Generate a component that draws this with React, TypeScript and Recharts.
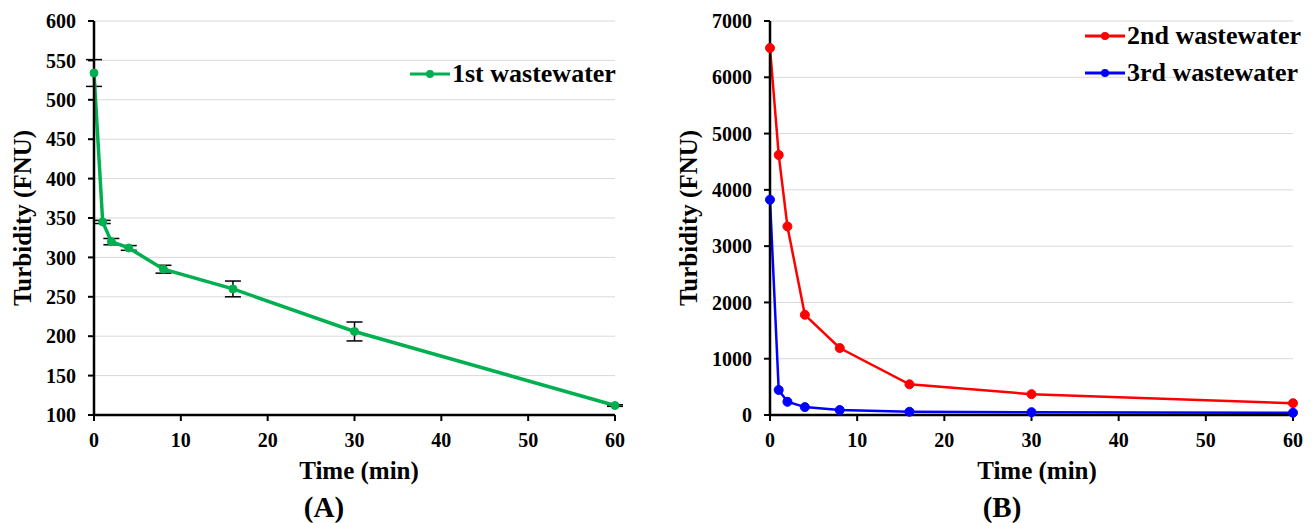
import React from 'react';
import { LineChart, Line, XAxis, YAxis, CartesianGrid, ErrorBar, Legend, Label } from 'recharts';

const timeMin = [0, 1, 2, 4, 8, 16, 30, 60];
const turbidity1st = [534, 345, 320, 312, 285, 260, 206, 112];
const error1st = [17, 2, 4, 3, 5, 10, 12, 1];
const turbidity2nd = [6520, 4620, 3350, 1780, 1190, 545, 370, 210];
const turbidity3rd = [3825, 445, 235, 140, 88, 58, 50, 40];
const xTicks = [0, 10, 20, 30, 40, 50, 60];
const yTicksA = [100, 150, 200, 250, 300, 350, 400, 450, 500, 550, 600];
const yTicksB = [0, 1000, 2000, 3000, 4000, 5000, 6000, 7000];

const dataA = timeMin.map((t, i) => ({ t, y: turbidity1st[i], err: error1st[i] }));
const dataB = timeMin.map((t, i) => ({ t, r: turbidity2nd[i], b: turbidity3rd[i] }));

const FONT = 'Liberation Serif, Times New Roman, Times, DejaVu Serif, serif';
const GREEN = '#00b050';
const RED = '#ff0000';
const BLUE = '#0000ff';

const tickStyle = { fill: '#000', fontSize: 20, fontWeight: 700, fontFamily: FONT };

const LegendRows = ({ items }: { items: { label: string; color: string }[] }) => (
  <div style={{ display: 'flex', flexDirection: 'column', gap: 7 }}>
    {items.map((it) => (
      <div key={it.label} style={{ display: 'flex', alignItems: 'center', height: 30 }}>
        <svg width={40} height={12} style={{ marginRight: 2 }}>
          <line x1={0} y1={6} x2={40} y2={6} stroke={it.color} strokeWidth={3} />
          <circle cx={20} cy={6} r={4} fill={it.color} />
        </svg>
        <span style={{ fontFamily: FONT, fontWeight: 700, fontSize: 26, color: '#000', lineHeight: '30px' }}>{it.label}</span>
      </div>
    ))}
  </div>
);

const yTitle = (cx: number) => (props: any) => {
  const vb = props.viewBox || {};
  const cy = (vb.y ?? 21) + (vb.height ?? 394) / 2;
  return (
    <text x={cx} y={cy} transform={`rotate(-90, ${cx}, ${cy})`} textAnchor="middle" dominantBaseline="central"
      fontFamily={FONT} fontWeight={700} fontSize={25} fill="#000">
      Turbidity (FNU)
    </text>
  );
};

const xTitle = (cx: number, panel: string, pcx: number) => () => (
  <g>
    <text x={cx} y={479} textAnchor="middle" fontFamily={FONT} fontWeight={700} fontSize={25} fill="#000">
      Time (min)
    </text>
    <text x={pcx} y={517} textAnchor="middle" fontFamily={FONT} fontWeight={700} fontSize={29} fill="#000">
      {panel}
    </text>
  </g>
);

export default function App() {
  return (
    <div style={{ position: 'absolute', left: 0, top: 0, width: 1315, height: 523, background: '#fff' }}>
      <div style={{ position: 'absolute', left: 0, top: 0 }}>
        <LineChart width={640} height={523} data={dataA} margin={{ top: 21, right: 25, bottom: 0, left: 0 }}>
          <CartesianGrid horizontal vertical={false} stroke="#d9d9d9" strokeWidth={1} />
          <XAxis dataKey="t" type="number" domain={[0, 60]} ticks={xTicks} height={108}
            axisLine={{ stroke: '#000', strokeWidth: 2.5 }} tickLine={{ stroke: '#000', strokeWidth: 2 }}
            tickSize={6} tickMargin={12} tick={tickStyle} interval={0}>
            <Label content={xTitle(359, '(A)', 324)} />
          </XAxis>
          <YAxis type="number" domain={[100, 600]} ticks={yTicksA} width={94} allowDataOverflow
            axisLine={{ stroke: '#000', strokeWidth: 2.5 }} tickLine={{ stroke: '#000', strokeWidth: 2 }}
            tickSize={6} tickMargin={12} tick={tickStyle} interval={0}>
            <Label content={yTitle(22)} />
          </YAxis>
          <Legend layout="horizontal" verticalAlign="middle" align="center"
            wrapperStyle={{ top: 59, left: 410, width: 'auto', height: 'auto' }}
            content={() => <LegendRows items={[{ label: '1st wastewater', color: GREEN }]} />} />
          <Line type="linear" dataKey="y" stroke={GREEN} strokeWidth={3.5} isAnimationActive={false}
            dot={{ r: 4, fill: GREEN, stroke: GREEN, strokeWidth: 1 }} activeDot={false}>
            <ErrorBar dataKey="err" direction="y" width={8} stroke="#000" strokeWidth={1.5} />
          </Line>
        </LineChart>
      </div>
      <div style={{ position: 'absolute', left: 660, top: 0 }}>
        <LineChart width={655} height={523} data={dataB} margin={{ top: 21, right: 22, bottom: 0, left: 0 }}>
          <CartesianGrid horizontal vertical={false} stroke="#d9d9d9" strokeWidth={1} />
          <XAxis dataKey="t" type="number" domain={[0, 60]} ticks={xTicks} height={108}
            axisLine={{ stroke: '#000', strokeWidth: 2.5 }} tickLine={{ stroke: '#000', strokeWidth: 2 }}
            tickSize={6} tickMargin={12} tick={tickStyle} interval={0}>
            <Label content={xTitle(377, '(B)', 342)} />
          </XAxis>
          <YAxis type="number" domain={[0, 7000]} ticks={yTicksB} width={110}
            axisLine={{ stroke: '#000', strokeWidth: 2.5 }} tickLine={{ stroke: '#000', strokeWidth: 2 }}
            tickSize={6} tickMargin={12} tick={tickStyle} interval={0}>
            <Label content={yTitle(28)} />
          </YAxis>
          <Legend layout="horizontal" verticalAlign="middle" align="center"
            wrapperStyle={{ top: 21, left: 425, width: 'auto', height: 'auto' }}
            content={() => <LegendRows items={[{ label: '2nd wastewater', color: RED }, { label: '3rd wastewater', color: BLUE }]} />} />
          <Line type="linear" dataKey="r" stroke={RED} strokeWidth={2.5} isAnimationActive={false}
            dot={{ r: 4.5, fill: RED, stroke: RED, strokeWidth: 1 }} activeDot={false} />
          <Line type="linear" dataKey="b" stroke={BLUE} strokeWidth={2.5} isAnimationActive={false}
            dot={{ r: 4.5, fill: BLUE, stroke: BLUE, strokeWidth: 1 }} activeDot={false} />
        </LineChart>
      </div>
    </div>
  );
}
